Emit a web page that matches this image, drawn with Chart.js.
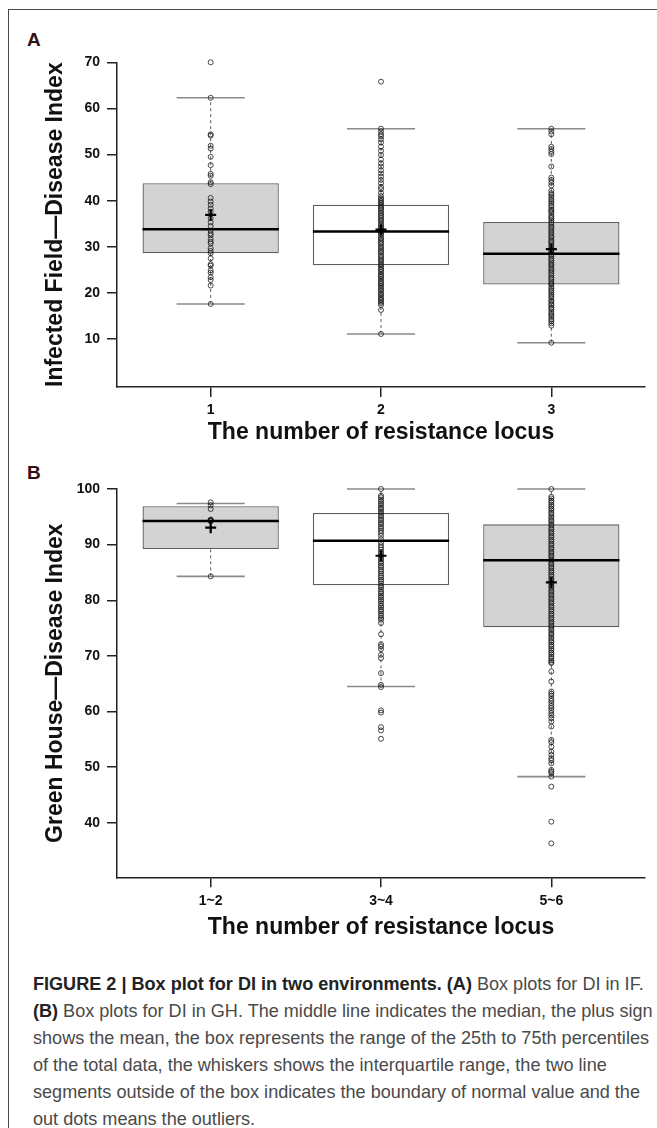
<!DOCTYPE html>
<html>
<head>
<meta charset="utf-8">
<script src="https://cdn.jsdelivr.net/npm/chart.js"></script>
<style>
  html, body { margin: 0; padding: 0; background: #fff; }
  body { width: 657px; height: 1128px; position: relative; overflow: hidden; font-family: 'Liberation Sans', Arial, sans-serif; }
  #frame { position: absolute; left: 8px; top: 9px; width: 700px; height: 1200px; border-left: 1.5px solid #4a4a4a; border-top: 1.5px solid #4a4a4a; }
  .panel { position: absolute; left: 27px; font-size: 19px; line-height: 19px; font-weight: bold; color: #331016; }
  canvas { position: absolute; left: 0; }
  #caption { position: absolute; left: 33px; top: 970px; font-size: 18.5px; line-height: 27px; color: #4a4a4a; white-space: nowrap; transform-origin: 0 0; }
  #caption b { color: #222; }
</style>
</head>
<body>
<div id="frame"></div>
<div class="panel" style="top:30px">A</div>
<div class="panel" style="top:463px">B</div>
<canvas id="chartA" width="657" height="450" style="top:0"></canvas>
<canvas id="chartB" width="657" height="497" style="top:450px"></canvas>
<div id="caption">
  <div><span class="ln"><b>FIGURE 2 | Box plot for DI in two environments. (A)</b> Box plots for DI in IF.</span></div>
  <div><span class="ln"><b>(B)</b> Box plots for DI in GH. The middle line indicates the median, the plus sign</span></div>
  <div><span class="ln" id="widest">shows the mean, the box represents the range of the 25th to 75th percentiles</span></div>
  <div><span class="ln">of the total data, the whiskers shows the interquartile range, the two line</span></div>
  <div><span class="ln">segments outside of the box indicates the boundary of normal value and the</span></div>
  <div><span class="ln">out dots means the outliers.</span></div>
</div>
<script>
// Panel A: infected field
const catsA = ['1', '2', '3'];
const q1A = [28.6, 26.0, 21.8];
const medA = [33.8, 33.3, 28.5];
const q3A = [43.8, 39.1, 35.4];
const meanA = [36.9, 33.7, 29.5];
const lowA = [17.6, 11.1, 9.2];
const highA = [62.3, 55.6, 55.6];
const yTicksA = [10, 20, 30, 40, 50, 60, 70];
const ptsA1 = [70.0, 62.3, 54.4, 54.1, 51.9, 51.3, 49.5, 47.7, 45.8, 45.4, 44.0, 43.6, 40.6, 39.8, 39.1, 38.3,
  37.6, 36.2, 35.3, 34.5, 33.5, 32.9, 32.5, 31.7, 31.1, 30.7, 29.7, 29.1, 28.6, 27.5, 26.2, 25.9, 24.9, 24.4,
  23.4, 22.8, 21.6, 17.6];
const ptsA2 = [65.8, 55.6, 55.0, 54.4, 53.9, 53.3, 52.6, 51.7, 50.8, 49.9, 48.9, 48.1, 47.4, 46.6, 45.9, 45.2,
  44.5, 43.8, 43.0, 42.5, 41.7, 41.0, 40.5, 40.2, 39.8, 39.5, 39.1, 38.7, 38.4, 38.1, 37.7, 37.3, 36.9, 36.6,
  36.2, 35.8, 35.5, 35.0, 34.7, 34.3, 33.9, 33.6, 33.2, 32.8, 32.5, 32.0, 31.7, 31.3, 30.9, 30.6, 30.1, 29.8,
  29.4, 29.0, 28.7, 28.2, 27.9, 27.5, 27.1, 26.8, 26.3, 26.0, 25.6, 25.2, 24.9, 24.5, 24.1, 23.7, 23.4, 23.0,
  22.6, 22.2, 21.9, 21.5, 21.1, 20.7, 20.4, 19.9, 19.6, 19.2, 18.8, 18.5, 18.1, 17.8, 17.4, 16.3, 11.1];
const ptsA3 = [55.6, 55.0, 54.4, 51.7, 51.2, 50.6, 50.1, 47.4, 45.0, 44.5, 43.9, 43.3, 42.2, 41.6, 41.2, 40.8,
  40.3, 39.9, 39.5, 39.0, 38.6, 38.1, 37.8, 37.4, 36.9, 36.5, 36.2, 35.7, 35.3, 34.9, 34.4, 34.1, 33.6, 33.2,
  32.8, 32.3, 32.0, 31.5, 31.1, 30.8, 30.3, 29.9, 29.5, 29.1, 28.7, 28.3, 27.9, 27.4, 27.1, 26.6, 26.2, 25.9,
  25.4, 25.0, 24.6, 24.2, 23.8, 23.3, 23.0, 22.5, 22.1, 21.8, 21.3, 20.9, 20.5, 20.1, 19.7, 19.3, 18.9, 18.4,
  18.1, 17.6, 17.3, 16.8, 16.5, 16.0, 15.6, 15.2, 14.8, 14.3, 13.9, 13.4, 12.9, 9.2];

// Panel B: green house
const catsB = ['1~2', '3~4', '5~6'];
const q1B = [89.2, 82.7, 75.15];
const medB = [94.25, 90.7, 87.2];
const q3B = [96.9, 95.7, 93.65];
const meanB = [93.05, 88.0, 83.2];
const lowB = [84.3, 64.5, 48.3];
const highB = [97.4, 100.0, 100.0];
const yTicksB = [40, 50, 60, 70, 80, 90, 100];
const ptsB1 = [97.6, 97.1, 96.4, 94.5, 94.4, 94.4, 94.3, 94.2, 84.3];
const ptsB2 = [100.0, 98.8, 98.5, 98.1, 97.8, 97.4, 97.1, 96.7, 96.4, 96.0, 95.7, 95.3, 95.0, 94.6, 94.3, 93.9,
  93.6, 93.2, 92.9, 92.5, 92.1, 91.6, 91.0, 90.4, 89.9, 89.5, 89.1, 88.7, 88.4, 88.0, 87.6, 87.3, 86.9, 86.6,
  86.2, 85.9, 85.5, 85.2, 84.8, 84.4, 84.1, 83.7, 83.4, 83.0, 82.6, 82.3, 81.9, 81.5, 81.2, 80.8, 80.5, 80.1,
  79.8, 79.4, 79.0, 78.7, 78.3, 78.0, 77.6, 77.2, 76.8, 76.5, 75.9, 73.9, 72.1, 71.7, 71.2, 70.2, 69.6, 66.9,
  64.8, 64.4, 60.2, 59.8, 57.2, 56.6, 55.1];
const ptsB3 = [100.0, 98.6, 98.3, 97.9, 97.6, 97.2, 96.9, 96.5, 96.2, 95.8, 95.5, 95.1, 94.8, 94.4, 94.1, 93.7,
  93.4, 93.0, 92.7, 92.3, 92.0, 91.6, 91.3, 90.9, 90.6, 90.2, 89.9, 89.5, 89.2, 88.8, 88.5, 88.1, 87.8, 87.4,
  87.1, 86.7, 86.4, 86.0, 85.7, 85.3, 85.0, 84.6, 84.3, 83.9, 83.6, 83.2, 82.9, 82.5, 82.2, 81.8, 81.5, 81.1,
  80.8, 80.4, 80.1, 79.7, 79.4, 79.0, 78.7, 78.3, 78.0, 77.6, 77.3, 76.9, 76.6, 76.2, 75.9, 75.5, 75.2, 74.8,
  74.5, 74.1, 73.8, 73.4, 73.1, 72.7, 72.4, 72.0, 71.7, 71.3, 71.0, 70.6, 70.3, 69.9, 69.6, 69.2, 68.9, 68.7,
  67.2, 65.4, 63.6, 63.2, 62.8, 62.3, 61.9, 61.5, 61.0, 60.6, 60.2, 59.7, 59.3, 58.8, 58.2, 57.3, 54.9, 54.5,
  53.7, 52.8, 52.2, 51.6, 51.2, 50.7, 49.5, 49.2, 48.9, 48.3, 46.5, 40.2, 36.3];

const fills = ['#d3d3d3', '#ffffff', '#d3d3d3'];
const tickFont = { family: 'Liberation Sans', weight: 'bold', size: 14 };
const titleFont = { family: 'Liberation Sans', weight: 'bold', size: 23 };

// a straight line segment between two data points
function seg(pts, color, width, dash, order) {
  return {
    type: 'line',
    data: pts.map(p => ({ x: p[0], y: p[1] })),
    borderColor: color, borderWidth: width, borderDash: dash,
    pointRadius: 0, fill: false, order: order, clip: false
  };
}

function buildDatasets(q1, med, q3, mean, low, high, pts) {
  const ds = [];
  ds.push({
    type: 'bar',
    data: q1.map((v, i) => ({ x: i + 1, y: [v, q3[i]] })),
    backgroundColor: fills, borderColor: '#5e5e5e', borderWidth: 1.3,
    borderSkipped: false, categoryPercentage: 0.8, barPercentage: 1, order: 10
  });
  q1.forEach((v, i) => {
    const x = i + 1;
    // dashed whiskers
    ds.push(seg([[x, q3[i]], [x, high[i]]], '#5a5a5a', 1, [3, 3], 9));
    ds.push(seg([[x, low[i]], [x, v]], '#5a5a5a', 1, [3, 3], 9));
    // caps
    ds.push(seg([[x - 0.2, high[i]], [x + 0.2, high[i]]], '#8a8a8a', 1.6, [], 8));
    ds.push(seg([[x - 0.2, low[i]], [x + 0.2, low[i]]], '#8a8a8a', 1.6, [], 8));
    // median
    ds.push(seg([[x - 0.4, med[i]], [x + 0.4, med[i]]], '#000', 2.6, [], 2));
  });
  pts.forEach((arr, i) => {
    ds.push({
      type: 'scatter',
      data: arr.map(v => ({ x: i + 1, y: v })),
      pointRadius: 2.5, pointBorderWidth: 0.9,
      pointBorderColor: 'rgba(20,20,20,0.85)', pointBackgroundColor: 'rgba(0,0,0,0)',
      order: 5, clip: false
    });
  });
  ds.push({
    type: 'scatter',
    data: mean.map((v, i) => ({ x: i + 1, y: v })),
    pointStyle: 'cross', pointRadius: 5.5, pointBorderWidth: 2.2,
    pointBorderColor: '#000', order: 1, clip: false
  });
  return ds;
}

function makeChart(id, cats, datasets, yMin, yMax, yTicks, yTitle, padTop, xAxisH, xTitlePad) {
  return new Chart(document.getElementById(id), {
    type: 'bar',
    data: { datasets: datasets },
    options: {
      responsive: false,
      animation: false,
      events: [],
      layout: { padding: { top: padTop, right: 12, bottom: 0, left: 0 } },
      plugins: { legend: { display: false }, tooltip: { enabled: false } },
      scales: {
        x: {
          type: 'linear', min: 0.45, max: 3.55, offset: false,
          afterBuildTicks: s => { s.ticks = cats.map((c, i) => ({ value: i + 1 })); },
          afterFit: s => { s.height = xAxisH; },
          ticks: {
            autoSkip: false, maxRotation: 0, padding: 5, color: '#111', font: tickFont,
            callback: v => cats[Math.round(v) - 1]
          },
          grid: { offset: false, drawOnChartArea: false, drawTicks: true, tickLength: 10, color: '#222', lineWidth: 1.5 },
          border: { display: true, color: '#222', width: 1.5 },
          title: { display: true, text: 'The number of resistance locus', color: '#111', font: titleFont, padding: { top: 0, bottom: xTitlePad } }
        },
        y: {
          type: 'linear', min: yMin, max: yMax,
          afterBuildTicks: s => { s.ticks = yTicks.map(v => ({ value: v })); },
          afterFit: s => { s.width = 117; },
          ticks: { padding: 7, color: '#111', font: tickFont },
          grid: { drawOnChartArea: false, drawTicks: true, tickLength: 10, color: '#222', lineWidth: 1.5 },
          border: { display: true, color: '#222', width: 1.5 },
          title: { display: true, text: yTitle, color: '#111', font: titleFont, padding: { top: 42, bottom: 0 } }
        }
      }
    }
  });
}

makeChart('chartA', catsA, buildDatasets(q1A, medA, q3A, meanA, lowA, highA, [ptsA1, ptsA2, ptsA3]),
  -0.4, 70, yTicksA, 'Infected Field\u2014Disease Index', 62.3, 63, 3.2);
makeChart('chartB', catsB, buildDatasets(q1B, medB, q3B, meanB, lowB, highB, [ptsB1, ptsB2, ptsB3]),
  30.2, 100, yTicksB, 'Green House\u2014Disease Index', 39, 69.7, 5.2);

// squeeze the caption so its widest line fits the column like the original
const cap = document.getElementById('caption');
const w = document.getElementById('widest').getBoundingClientRect().width;
cap.style.transform = 'scaleX(' + (616 / w) + ')';
</script>
</body>
</html>
